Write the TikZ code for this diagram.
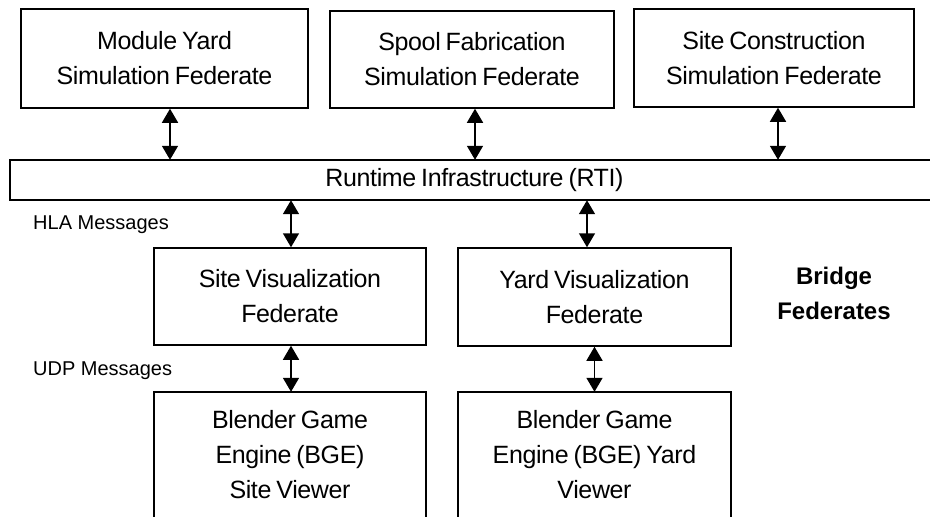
\documentclass[tikz,border=0pt]{standalone}
\usepackage{fontspec}
\setmainfont{Liberation Sans}
\newfontfamily\boxfont[LetterSpace=-1.5,WordSpace=0.75]{Liberation Sans}
\usetikzlibrary{arrows.meta}
\tikzset{
  fedbox/.style={draw, line width=1.5pt, align=center, inner sep=0pt,
    font=\boxfont\fontsize{25}{35}\selectfont},
  openbox/.style={draw=none, align=center, inner sep=0pt,
    font=\boxfont\fontsize{25}{35}\selectfont},
  biarrow/.style={line width=1.5pt, {Triangle[width=16pt,length=14pt]}-{Triangle[width=16pt,length=14pt]}},
  msglabel/.style={anchor=west, inner sep=0pt, font=\fontsize{20}{24}\selectfont},
  edgeline/.style={line width=1.5pt}
}
\begin{document}
\begin{tikzpicture}[x=1pt,y=-1pt]
\useasboundingbox (0,0) rectangle (930,517);
\fill[white] (0,0) rectangle (930,517);

% top federates
\node[fedbox, minimum width=287pt, minimum height=99pt] (mod) at (164.5,58.5) {Module Yard\\Simulation Federate};
\node[fedbox, minimum width=284pt, minimum height=97pt] (spool) at (472,59.5) {Spool Fabrication\\Simulation Federate};
\node[fedbox, minimum width=280pt, minimum height=98pt] (sitec) at (774,58) {Site Construction\\Simulation Federate};

% RTI bar (open on the right)
\node[openbox, minimum width=920pt, minimum height=40pt] (rti) at (470,180) {\hspace*{9pt}Runtime Infrastructure (RTI)};
\draw[edgeline] (rti.north east) -- (rti.north west) -- (rti.south west) -- (rti.south east);

% bridge federates
\node[fedbox, minimum width=272pt, minimum height=97pt] (sitev) at (290,296.5) {Site Visualization\\Federate};
\node[fedbox, minimum width=273pt, minimum height=98pt] (yardv) at (594.5,297) {Yard Visualization\\Federate};

% BGE viewers (open at the bottom)
\node[openbox, minimum width=272pt, minimum height=125pt] (bges) at (290,454.5) {Blender Game\\Engine (BGE)\\Site Viewer};
\node[openbox, minimum width=273pt, minimum height=125pt] (bgey) at (594.5,454.5) {Blender Game\\Engine (BGE) Yard\\Viewer};
\draw[edgeline] (bges.south west) -- (bges.north west) -- (bges.north east) -- (bges.south east);
\draw[edgeline] (bgey.south west) -- (bgey.north west) -- (bgey.north east) -- (bgey.south east);

% labels
\node[msglabel] (hla) at (33,225) {HLA Messages};
\node[msglabel] (udp) at (33,371) {UDP Messages};
\node[align=center, inner sep=0pt, font=\fontsize{24}{35}\selectfont\bfseries] (bridge) at (834,293) {Bridge\\Federates};

% connectors
\draw[biarrow] ([xshift=5.5pt]mod.south) -- ([xshift=5.5pt]mod.south |- rti.north);
\draw[biarrow] ([xshift=3pt]spool.south) -- ([xshift=3pt]spool.south |- rti.north);
\draw[biarrow] ([xshift=4pt]sitec.south) -- ([xshift=4pt]sitec.south |- rti.north);
\draw[biarrow] ([xshift=1pt]sitev.north |- rti.south) -- ([xshift=1pt]sitev.north);
\draw[biarrow] ([xshift=-7.5pt]yardv.north |- rti.south) -- ([xshift=-7.5pt]yardv.north);
\draw[biarrow] ([xshift=1pt]sitev.south) -- ([xshift=1pt]bges.north);
\draw[biarrow] (yardv.south) -- (bgey.north);
\end{tikzpicture}
\end{document}
